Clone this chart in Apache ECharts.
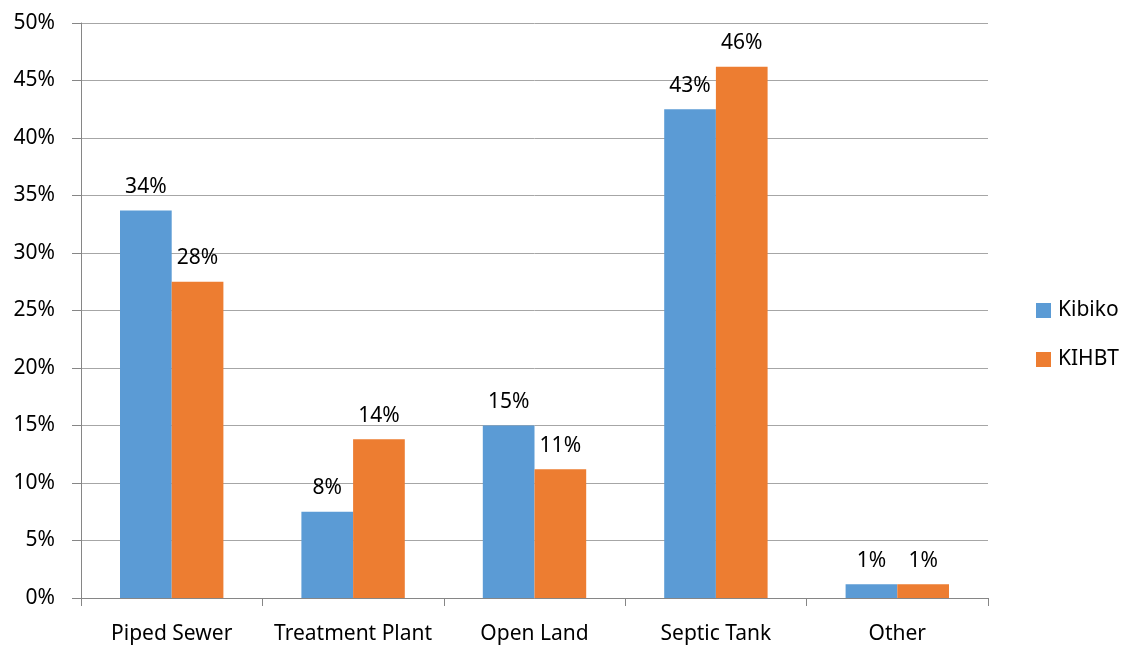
<!DOCTYPE html>
<html>
<head>
<meta charset="utf-8">
<script src="https://cdn.jsdelivr.net/npm/echarts@6/dist/echarts.min.js"></script>
<style>
  html, body { margin: 0; padding: 0; background: #fff; }
  #chart { width: 1122px; height: 646px; }
</style>
</head>
<body>
<div id="chart"></div>
<script>
// Where household waste water goes, share of respondents per site
const categories = ['Piped Sewer', 'Treatment Plant', 'Open Land', 'Septic Tank', 'Other'];
const kibiko = [33.7, 7.5, 15.0, 42.5, 1.2];
const kihbt = [27.5, 13.8, 11.2, 46.2, 1.2];
const seriesNames = ['Kibiko', 'KIHBT'];
const seriesColors = ['#5b9bd5', '#ed7d31'];

const FONT = 'Noto Sans';
const FONT_SIZE = 21;
const chart = echarts.init(document.getElementById('chart'), null, { renderer: 'canvas' });

const valueLabel = {
  show: true,
  position: 'top',
  distance: 13,
  color: '#000',
  fontFamily: FONT,
  fontSize: FONT_SIZE,
  formatter: p => Math.round(p.value) + '%'
};

chart.setOption({
  animation: false,
  backgroundColor: '#fff',
  grid: { left: 81, right: 134, top: 23, bottom: 48, containLabel: false },
  legend: {
    orient: 'vertical',
    left: 1031,
    top: 295,
    itemWidth: 15,
    itemHeight: 15,
    itemGap: 28,
    icon: 'rect',
    textStyle: { fontFamily: FONT, fontSize: FONT_SIZE, color: '#000', padding: [0, 0, 0, 2] },
    data: seriesNames
  },
  xAxis: {
    type: 'category',
    data: categories,
    boundaryGap: true,
    axisLine: { lineStyle: { color: '#868686', width: 1 } },
    axisTick: { show: true, interval: 0, length: 8, lineStyle: { color: '#868686' }, alignWithLabel: false },
    axisLabel: { interval: 0, hideOverlap: false, color: '#000', fontFamily: FONT, fontSize: FONT_SIZE, margin: 26 },
    splitLine: { show: false }
  },
  yAxis: {
    type: 'value',
    min: 0,
    max: 50,
    interval: 5,
    axisLine: { show: true, lineStyle: { color: '#868686', width: 1 } },
    axisTick: { show: true, length: 9, inside: false, lineStyle: { color: '#868686' } },
    axisLabel: { color: '#000', fontFamily: FONT, fontSize: FONT_SIZE, margin: 26, formatter: v => v + '%' },
    splitLine: { show: true, lineStyle: { color: '#a6a6a6', width: 1 } }
  },
  series: [
    {
      name: seriesNames[0],
      type: 'bar',
      data: kibiko,
      barGap: '0%',
      barCategoryGap: '43%',
      itemStyle: { color: seriesColors[0] },
      label: valueLabel
    },
    {
      name: seriesNames[1],
      type: 'bar',
      data: kihbt,
      barGap: '0%',
      barCategoryGap: '43%',
      itemStyle: { color: seriesColors[1] },
      label: valueLabel
    }
  ]
});
</script>
</body>
</html>
